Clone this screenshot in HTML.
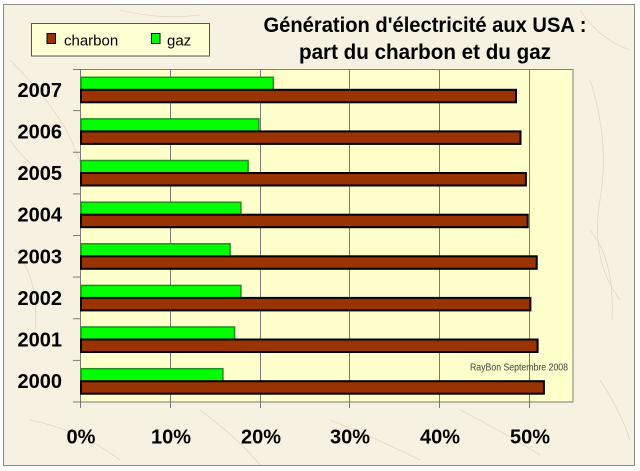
<!DOCTYPE html>
<html><head><meta charset="utf-8">
<style>
html,body{margin:0;padding:0;background:#fff;}
svg{display:block;}
text{font-family:"Liberation Sans",Arial,sans-serif;}
</style></head>
<body>
<svg width="640" height="471" viewBox="0 0 640 471" xmlns="http://www.w3.org/2000/svg">
<rect x="0" y="0" width="640" height="471" fill="#ffffff"/>
<rect x="3.5" y="4.5" width="631" height="461" fill="#f7f1e2" stroke="#8a8a8a" stroke-width="1"/>
<g fill="none" stroke="#d9cbb0" stroke-width="0.8" opacity="0.7">
<path d="M10 60 Q40 90 60 120 T90 200"/>
<path d="M590 80 Q610 140 600 200 T620 300"/>
<path d="M600 380 Q620 410 630 440"/>
<path d="M30 420 Q80 430 120 460"/>
<path d="M200 410 Q240 440 260 465"/>
<path d="M330 420 Q380 440 420 460"/>
<path d="M460 410 Q500 430 540 455"/>
<path d="M15 250 Q40 280 35 330"/>
<path d="M10 140 Q30 170 60 180"/>
<path d="M580 10 Q600 40 630 50"/>
<path d="M120 10 Q160 20 200 15"/>
<path d="M590 230 Q615 260 612 320"/>
</g>
<!-- legend -->
<rect x="31.5" y="23.5" width="178" height="32.5" fill="#ffffd4" stroke="#555" stroke-width="1"/>
<rect x="47" y="33.5" width="8.5" height="10" fill="#993300" stroke="#000" stroke-width="1"/>
<text x="64" y="45.5" font-size="15" fill="#000">charbon</text>
<rect x="151.5" y="33.5" width="8.5" height="10" fill="#00ff00" stroke="#000" stroke-width="1"/>
<text x="167" y="45.5" font-size="15" fill="#000">gaz</text>
<!-- title -->
<text x="425" y="32" font-size="21" font-weight="bold" text-anchor="middle" textLength="323" lengthAdjust="spacingAndGlyphs" fill="#000">Génération d'électricité aux USA :</text>
<text x="425" y="59" font-size="21" font-weight="bold" text-anchor="middle" textLength="252" lengthAdjust="spacingAndGlyphs" fill="#000">part du charbon et du gaz</text>
<!-- plot area -->
<rect x="80.5" y="69.5" width="492.5" height="332.5" fill="#ffffcc" stroke="#808080" stroke-width="1"/>
<g stroke="#7a7a7a" stroke-width="1">
<line x1="170.5" y1="69.5" x2="170.5" y2="408"/>
<line x1="260.5" y1="69.5" x2="260.5" y2="408"/>
<line x1="349.5" y1="69.5" x2="349.5" y2="408"/>
<line x1="439.5" y1="69.5" x2="439.5" y2="408"/>
<line x1="529.5" y1="69.5" x2="529.5" y2="408"/>
<line x1="80.5" y1="69" x2="80.5" y2="408"/>
<line x1="80" y1="402" x2="573" y2="402"/>
<line x1="73" y1="69.5" x2="80" y2="69.5"/>
<line x1="73" y1="110.6" x2="80" y2="110.6"/>
<line x1="73" y1="152.25" x2="80" y2="152.25"/>
<line x1="73" y1="193.9" x2="80" y2="193.9"/>
<line x1="73" y1="235.5" x2="80" y2="235.5"/>
<line x1="73" y1="277.1" x2="80" y2="277.1"/>
<line x1="73" y1="318.75" x2="80" y2="318.75"/>
<line x1="73" y1="360.4" x2="80" y2="360.4"/>
<line x1="73" y1="402" x2="80" y2="402"/>
</g>
<!-- bars -->
<g stroke="#1f8f1f" stroke-width="1.5" fill="#00ff00">
<rect x="81" y="77.3" width="192.3" height="12.5"/>
<rect x="81" y="118.9" width="177.9" height="12.5"/>
<rect x="81" y="160.5" width="167.1" height="12.5"/>
<rect x="81" y="202.2" width="159.9" height="12.5"/>
<rect x="81" y="243.8" width="149.1" height="12.5"/>
<rect x="81" y="285.4" width="159.9" height="12.5"/>
<rect x="81" y="327.0" width="153.6" height="12.5"/>
<rect x="81" y="368.7" width="141.9" height="12.5"/>
</g>
<g stroke="#000" stroke-width="2" fill="#993300">
<rect x="81" y="89.8" width="435" height="12.5"/>
<rect x="81" y="131.4" width="439.5" height="12.5"/>
<rect x="81" y="173.0" width="444.9" height="12.5"/>
<rect x="81" y="214.7" width="446.7" height="12.5"/>
<rect x="81" y="256.3" width="455.7" height="12.5"/>
<rect x="81" y="297.9" width="449.4" height="12.5"/>
<rect x="81" y="339.5" width="456.6" height="12.5"/>
<rect x="81" y="381.2" width="462.9" height="12.5"/>
</g>
<text x="519" y="370.5" font-size="10" text-anchor="middle" fill="#404040" textLength="98" lengthAdjust="spacingAndGlyphs">RayBon Septembre 2008</text>
<!-- year labels -->
<g font-size="20" font-weight="bold" text-anchor="end" fill="#000">
<text x="62" y="97">2007</text>
<text x="62" y="138.5">2006</text>
<text x="62" y="180">2005</text>
<text x="62" y="221.7">2004</text>
<text x="62" y="263.3">2003</text>
<text x="62" y="305">2002</text>
<text x="62" y="346.5">2001</text>
<text x="62" y="388.2">2000</text>
</g>
<!-- x labels -->
<g font-size="20" font-weight="bold" text-anchor="middle" fill="#000">
<text x="81" y="443.5">0%</text>
<text x="171" y="443.5">10%</text>
<text x="261" y="443.5">20%</text>
<text x="350" y="443.5">30%</text>
<text x="440" y="443.5">40%</text>
<text x="530" y="443.5">50%</text>
</g>
</svg>
</body></html>
